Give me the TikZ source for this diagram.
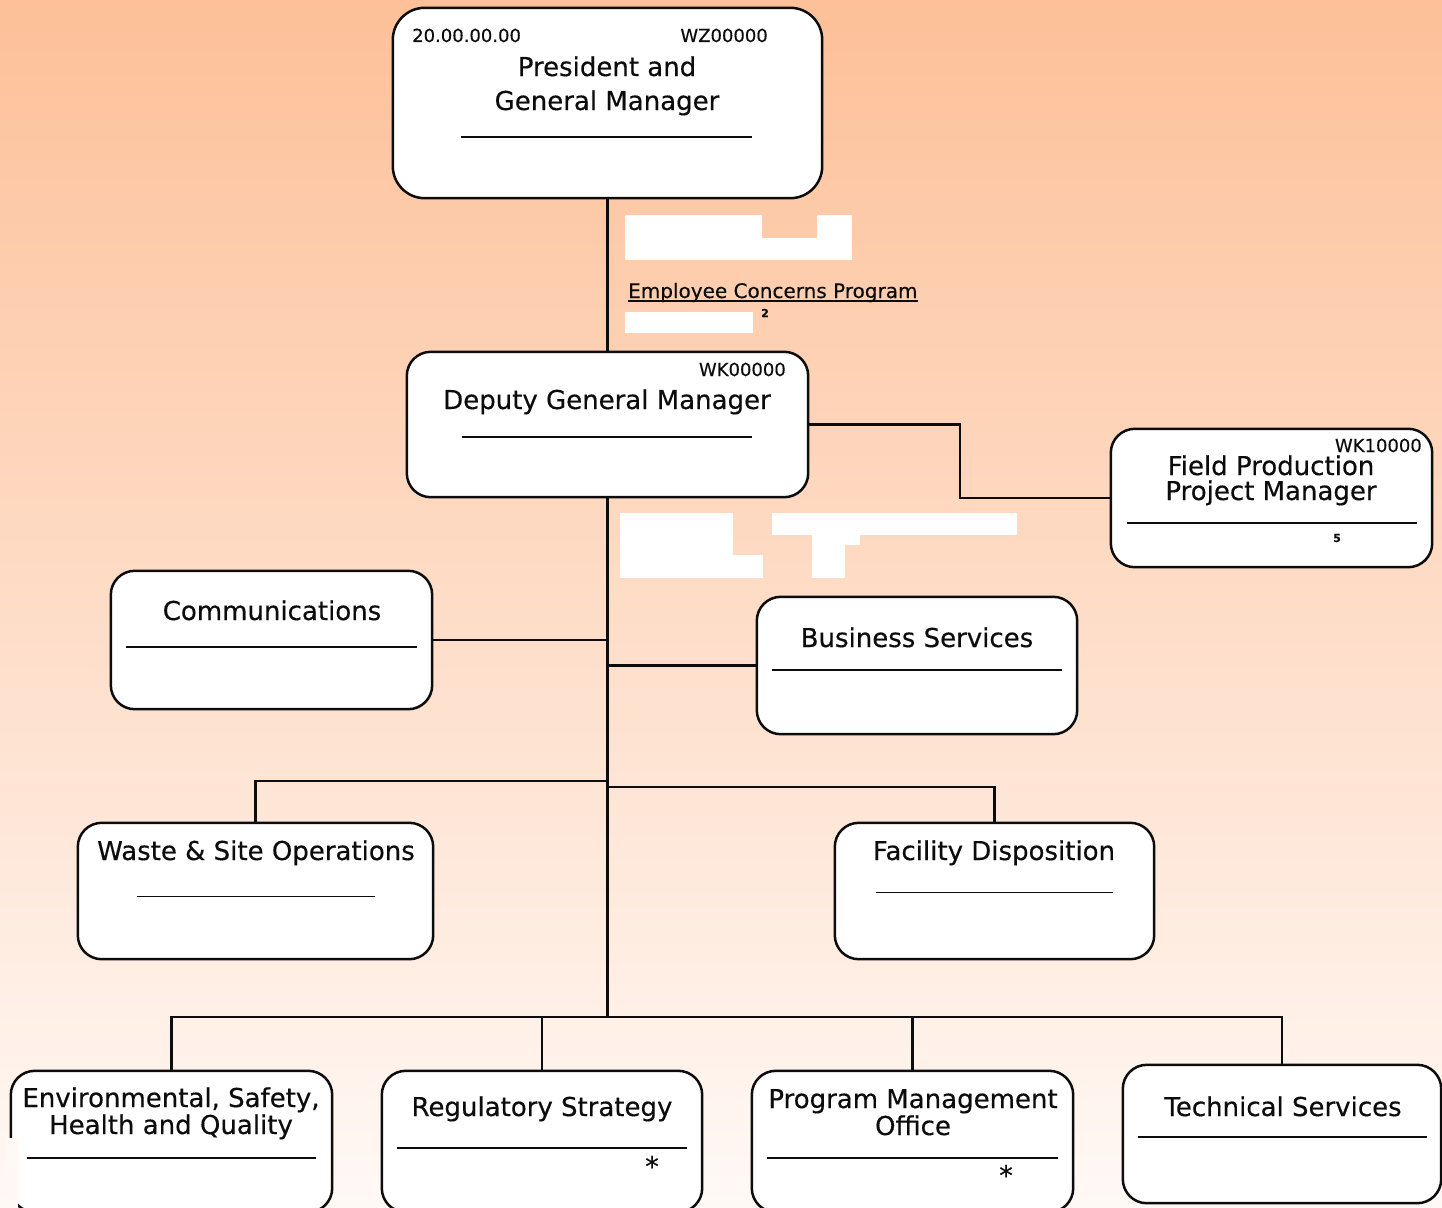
\documentclass[tikz,border=0pt]{standalone}
\usepackage{fontspec}
\setmainfont{DejaVu Sans}[FakeBold=0.4]
\definecolor{bgtop}{RGB}{253,192,152}
\definecolor{bgmid}{RGB}{254,218,196}
\definecolor{bgbot}{RGB}{255,249,246}
\definecolor{ink}{RGB}{12,12,12}
\begin{document}
\begin{tikzpicture}[x=1pt,y=-1pt,
  box/.style={draw=ink, line width=2.5pt, fill=white, rounded corners=24pt, inner sep=0pt},
  conn/.style={draw=ink, line width=2.5pt},
  sepline/.style={draw=ink, line width=1.3pt},
  ttl/.style={font=\fontsize{26}{31}\selectfont, text=ink, inner sep=0pt, anchor=base, align=center},
  codetxt/.style={font=\fontsize{18}{20}\selectfont, text=ink, inner sep=0pt},
  smallnum/.style={font=\bfseries\fontsize{11}{12}\selectfont, text=ink, inner sep=0pt},
  star/.style={font=\fontsize{27}{28}\selectfont, text=ink, inner sep=0pt},
  patch/.style={fill=white, draw=none}]
\useasboundingbox (0,0) rectangle (1442,1207);
\shade[top color=bgtop, middle color=bgmid, bottom color=bgbot] (0,0) rectangle (1442,1207);
\begin{scope}
\clip (0,0) rectangle (1442,1207);
% junction coordinates
\coordinate (busc) at (607.5,1017);
\coordinate (j1) at (607.5,781);
\coordinate (j2) at (607.5,787);
% box positions
\path
  (607.5,103)  coordinate (presc) node[minimum width=429pt, minimum height=190pt, inner sep=0pt] (pres) {}
  (607.5,424.5) node[minimum width=401pt, minimum height=145pt, inner sep=0pt] (dep) {}
  (1271.5,498) node[minimum width=321pt, minimum height=138pt, inner sep=0pt] (fpm) {}
  (271.5,640)  node[minimum width=321pt, minimum height=138pt, inner sep=0pt] (comm) {}
  (917,665.5)  node[minimum width=320pt, minimum height=137pt, inner sep=0pt] (bus) {}
  (255.5,891)  node[minimum width=355pt, minimum height=136pt, inner sep=0pt] (waste) {}
  (994.5,891)  node[minimum width=319pt, minimum height=136pt, inner sep=0pt] (fac) {}
  (171.5,1141.5) node[minimum width=321pt, minimum height=141pt, inner sep=0pt] (eshq) {}
  (542,1141.5) node[minimum width=320pt, minimum height=141pt, inner sep=0pt] (reg) {}
  (912.5,1141.5) node[minimum width=321pt, minimum height=141pt, inner sep=0pt] (pmo) {}
  (1282,1134)  node[minimum width=318pt, minimum height=138pt, inner sep=0pt] (tech) {};
% connectors
\draw[conn] (pres.south) -- (dep.north);
\draw[conn] (dep.east) -- ++(152,0) |- (fpm.west);
\draw[conn] (dep.south) -- (busc);
\draw[conn] (comm.east) -- (comm.east -| dep.south);
\draw[conn] (bus.west) -- (bus.west -| dep.south);
\draw[conn] (j1) -| (waste.north);
\draw[conn] (j2) -| (fac.north);
\draw[conn] (eshq.north) |- (busc) -| (tech.north);
\draw[conn] (reg.north) -- (reg.north |- busc);
\draw[conn] (pmo.north) -- (pmo.north |- busc);
% box outlines
\foreach \n in {dep,fpm,comm,bus,waste,fac,eshq,reg,pmo,tech}{
  \path[box] (\n.north west) rectangle (\n.south east);
}
\path[box, rounded corners=32pt] (pres.north west) rectangle (pres.south east);
% left border artifact of ESHQ box
\fill[bgbot] (7,1138) rectangle (18,1207);
% separator lines
\draw[sepline] (461,137) -- (752,137);
\draw[sepline] (462,437) -- (752,437);
\draw[sepline] (1127,523) -- (1417,523);
\draw[sepline] (126,647) -- (417,647);
\draw[sepline] (772,670) -- (1062,670);
\draw[sepline, line width=1pt] (137,896) -- (375,896);
\draw[sepline, line width=1pt] (876,892) -- (1113,892);
\draw[sepline] (27,1158) -- (316,1158);
\draw[sepline] (397,1148) -- (687,1148);
\draw[sepline] (767,1158) -- (1058,1158);
\draw[sepline] (1138,1137) -- (1427,1137);
% white patches
\fill[patch] (625,215) rectangle (762,260);
\fill[patch] (762,238) rectangle (852,260);
\fill[patch] (817,215) rectangle (852,238);
\fill[patch] (625,312) rectangle (753,333);
\fill[patch] (620,513) rectangle (733,578);
\fill[patch] (733,555) rectangle (763,578);
\fill[patch] (772,513) rectangle (1017,535);
\fill[patch] (812,513) rectangle (845,578);
\fill[patch] (845,535) rectangle (860,545);
% texts
\node[codetxt, anchor=base west] (pcode) at (412,42) {20.00.00.00};
\node[codetxt, anchor=base east] (pwz) at (768,42) {WZ00000};
\node[ttl, font=\fontsize{26}{34}\selectfont] (ptitle) at (607,110) {President and\\General Manager};
\node[codetxt, anchor=base east] (dcode) at (786,376) {WK00000};
\node[ttl] (dtitle) at (607,409) {Deputy General Manager};
\node[codetxt, anchor=base east] (fcode) at (1422,452) {WK10000};
\node[ttl, font=\fontsize{26}{25}\selectfont] (ftitle) at (1271,500) {Field Production\\Project Manager};
\node[smallnum] (fnum) at (1337,538) {5};
\node[font=\fontsize{20}{22}\selectfont, text=ink, inner sep=0pt, anchor=base west] (ecp) at (628,298) {Employee Concerns Program};
\draw[ink, line width=1.5pt] ([yshift=-3pt]ecp.base west) -- ([yshift=-3pt]ecp.base east);
\node[smallnum] (ecpnum) at (765,313) {2};
\node[ttl] (ctitle) at (272,620) {Communications};
\node[ttl] (btitle) at (917,647) {Business Services};
\node[ttl] (wtitle) at (256,860) {Waste \& Site Operations};
\node[ttl] (fdtitle) at (994,860) {Facility Disposition};
\node[ttl, font=\fontsize{26}{27}\selectfont] (etitle) at (171,1134) {Environmental, Safety,\\Health and Quality};
\node[ttl] (rtitle) at (542,1116) {Regulatory Strategy};
\node[star] (rstar) at (652,1166) {*};
\node[ttl, font=\fontsize{26}{27}\selectfont] (mtitle) at (913,1135) {Program Management\\Office};
\node[star] (mstar) at (1006,1175) {*};
\node[ttl] (ttitle) at (1283,1116) {Technical Services};
\end{scope}
\end{tikzpicture}
\end{document}
